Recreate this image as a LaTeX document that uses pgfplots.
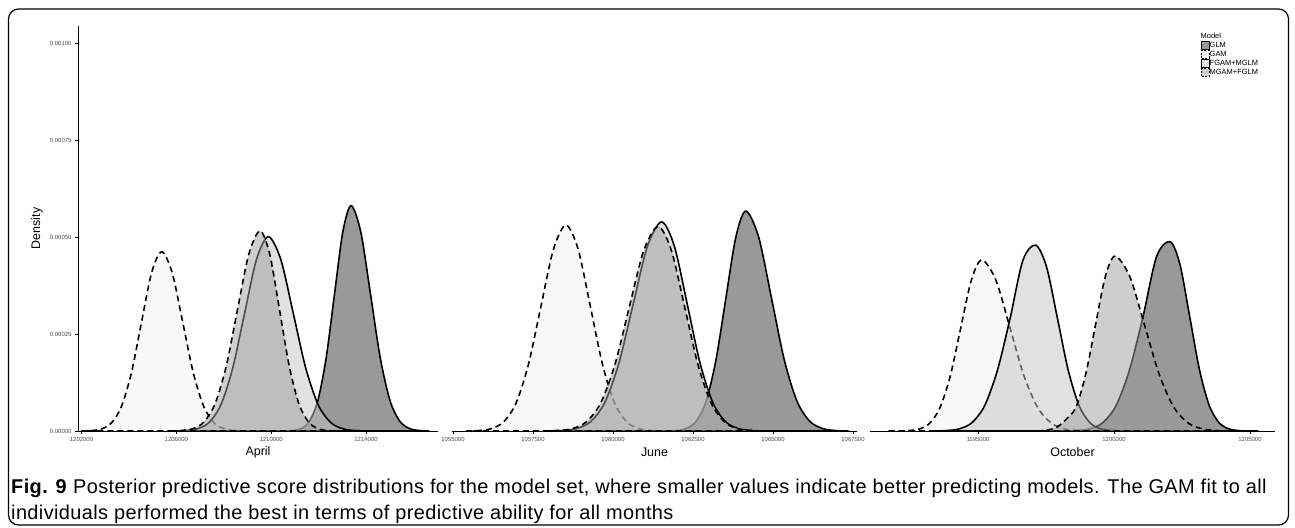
\documentclass[border=0pt]{standalone}
\usepackage{fontspec}
\setmainfont{Liberation Sans}
\newfontfamily\capfont[LetterSpace=2]{Liberation Sans}
\usepackage{pgfplots}
\pgfplotsset{compat=1.18}
\pgfkeys{/pgf/number format/assume math mode=true}

\definecolor{glmfill}{gray}{0.20}
\definecolor{gamfill}{gray}{0.945}
\definecolor{fgamfill}{gray}{0.765}
\definecolor{mgamfill}{gray}{0.616}
\definecolor{ticktext}{HTML}{4D4D4D}

\pgfplotsset{
  panel/.style={
    scale only axis, height=405bp,
    ymin=0, ymax=0.001044,
    axis x line*=bottom,
    axis line style={line width=0.8bp, -},
    tick align=outside, major tick length=3bp,
    tick style={line width=0.5bp, black},
    ticklabel style={font=\fontsize{6}{6}\selectfont, text=ticktext},
    scaled x ticks=false, scaled y ticks=false,
    xticklabel style={/pgf/number format/.cd, fixed, precision=0, 1000 sep={}},
    xlabel style={font=\fontsize{12.5}{12.5}\selectfont, at={(axis description cs:0.5,0)}, anchor=center, yshift=-21bp},
    clip=false,
  },
  glm/.style={draw=black, line width=1.6bp, line join=round, fill=glmfill, fill opacity=0.5, smooth,
    legend image code/.code={\draw[draw=black, line width=0.6bp, fill=glmfill, fill opacity=0.5] (0bp,-3.8bp) rectangle (7.5bp,3.8bp);}},
  gam/.style={draw=black, line width=1.6bp, line join=round, fill=gamfill, fill opacity=0.5, smooth, dash pattern=on 6bp off 4bp,
    legend image code/.code={\draw[draw=black, line width=0.6bp, fill=gamfill, fill opacity=0.5, dash pattern=on 2bp off 1.5bp] (0bp,-3.8bp) rectangle (7.5bp,3.8bp);}},
  fgam/.style={draw=black, line width=1.6bp, line join=round, fill=fgamfill, fill opacity=0.5, smooth,
    legend image code/.code={\draw[draw=black, line width=0.6bp, fill=fgamfill, fill opacity=0.5] (0bp,-3.8bp) rectangle (7.5bp,3.8bp);}},
  mgam/.style={draw=black, line width=1.6bp, line join=round, fill=mgamfill, fill opacity=0.5, smooth, dash pattern=on 6bp off 4bp,
    legend image code/.code={\draw[draw=black, line width=0.6bp, fill=mgamfill, fill opacity=0.5, dash pattern=on 2bp off 1.5bp] (0bp,-3.8bp) rectangle (7.5bp,3.8bp);}},
}

\begin{document}
\begin{tikzpicture}
\path[use as bounding box] (0bp,0bp) rectangle (1295bp,528bp);
\draw[line width=1.2bp, rounded corners=10bp] (8.5bp,3bp) rectangle (1288.5bp,519bp);

% April
\begin{axis}[panel, at={(78bp,97bp)}, anchor=south west, width=360bp,
  xmin=1201852, xmax=1217036,
  xtick={1202000,1206000,1210000,1214000},
  axis y line*=left,
  ytick={0,0.00025,0.0005,0.00075,0.001},
  yticklabel style={/pgf/number format/.cd, fixed, fixed zerofill, precision=5},
  xlabel={April}, ylabel={Density},
  ylabel style={font=\fontsize{12.5}{12.5}\selectfont, at={(axis description cs:-0.114,0.5)}, anchor=center},
]
\addplot[glm] coordinates {(1210570,0) (1210920,0.0000013) (1211270,0.0000064) (1211620,0.0000255) (1211970,0.0000786) (1212320,0.0001887) (1212670,0.0003524) (1213020,0.0005127) (1213370,0.000581) (1213780,0.0005127) (1214190,0.0003524) (1214600,0.0001887) (1215010,0.0000786) (1215420,0.0000255) (1215830,0.0000064) (1216240,0.0000013) (1216650,0)} \closedcycle;
\addplot[gam] coordinates {(1201980,0) (1202405,0.0000010) (1202830,0.0000051) (1203255,0.0000203) (1203680,0.0000625) (1204105,0.0001500) (1204530,0.0002802) (1204955,0.0004077) (1205380,0.000462) (1205825,0.0004077) (1206270,0.0002802) (1206715,0.0001500) (1207160,0.0000625) (1207605,0.0000203) (1208050,0.0000051) (1208495,0.0000010) (1208940,0)} \closedcycle;
\addplot[fgam] coordinates {(1205880,0) (1206380,0.0000011) (1206880,0.0000056) (1207380,0.0000220) (1207880,0.0000678) (1208380,0.0001627) (1208880,0.0003039) (1209380,0.0004421) (1209880,0.000501) (1210405,0.0004421) (1210930,0.0003039) (1211455,0.0001627) (1211980,0.0000678) (1212505,0.0000220) (1213030,0.0000056) (1213555,0.0000011) (1214080,0)} \closedcycle;
\addplot[mgam] coordinates {(1205730,0) (1206205,0.0000011) (1206680,0.0000057) (1207155,0.0000227) (1207630,0.0000698) (1208105,0.0001675) (1208580,0.0003130) (1209055,0.0004554) (1209530,0.000516) (1209940,0.0004554) (1210350,0.0003130) (1210760,0.0001675) (1211170,0.0000698) (1211580,0.0000227) (1211990,0.0000057) (1212400,0.0000011) (1212810,0)} \closedcycle;
\end{axis}

% June
\begin{axis}[panel, at={(452bp,97bp)}, anchor=south west, width=405bp,
  xmin=1054969, xmax=1067625,
  xtick={1055000,1057500,1060000,1062500,1065000,1067500},
  axis y line=none,
  xlabel={June},
]
\addplot[glm] coordinates {(1061670,0) (1061980,0.0000012) (1062290,0.0000063) (1062600,0.0000249) (1062910,0.0000767) (1063220,0.0001841) (1063530,0.0003439) (1063840,0.0005004) (1064150,0.000567) (1064550,0.0005004) (1064950,0.0003439) (1065350,0.0001841) (1065750,0.0000767) (1066150,0.0000249) (1066550,0.0000063) (1066950,0.0000012) (1067350,0)} \closedcycle;
\addplot[gam] coordinates {(1055410,0) (1055800,0.0000012) (1056190,0.0000059) (1056580,0.0000233) (1056970,0.0000718) (1057360,0.0001724) (1057750,0.0003221) (1058140,0.0004686) (1058530,0.000531) (1058910,0.0004686) (1059290,0.0003221) (1059670,0.0001724) (1060050,0.0000718) (1060430,0.0000233) (1060810,0.0000059) (1061190,0.0000012) (1061570,0)} \closedcycle;
\addplot[fgam] coordinates {(1057960,0) (1058405,0.0000012) (1058850,0.0000060) (1059295,0.0000237) (1059740,0.0000729) (1060185,0.0001750) (1060630,0.0003269) (1061075,0.0004757) (1061520,0.000539) (1061920,0.0004757) (1062320,0.0003269) (1062720,0.0001750) (1063120,0.0000729) (1063520,0.0000237) (1063920,0.0000060) (1064320,0.0000012) (1064720,0)} \closedcycle;
\addplot[mgam] coordinates {(1057810,0) (1058260,0.0000012) (1058710,0.0000058) (1059160,0.0000231) (1059610,0.0000713) (1060060,0.0001711) (1060510,0.0003196) (1060960,0.0004651) (1061410,0.000527) (1061825,0.0004651) (1062240,0.0003196) (1062655,0.0001711) (1063070,0.0000713) (1063485,0.0000231) (1063900,0.0000058) (1064315,0.0000012) (1064730,0)} \closedcycle;
\end{axis}

% October
\begin{axis}[panel, at={(870bp,97bp)}, anchor=south west, width=405bp,
  xmin=1191029, xmax=1205919,
  xtick={1195000,1200000,1205000},
  axis y line=none,
  xlabel={October},
  legend style={at={(axis description cs:0.817,0.985)}, anchor=north west, draw=none, fill=none,
    font=\fontsize{7.5}{7.5}\selectfont, inner sep=0pt, row sep=0.9bp,
    nodes={inner sep=0.5bp}},
  legend cell align=left,
]
\addlegendimage{empty legend}
\addlegendentry{\hspace{-9bp}Model}
\addplot[glm] coordinates {(1198100,0) (1198595,0.0000011) (1199090,0.0000054) (1199585,0.0000214) (1200080,0.0000660) (1200575,0.0001585) (1201070,0.0002960) (1201565,0.000450) (1202060,0.000488) (1202420,0.0004307) (1202780,0.0002960) (1203140,0.0001585) (1203500,0.0000660) (1203860,0.0000214) (1204220,0.0000054) (1204580,0.0000011) (1204940,0) (1205300,0)} \closedcycle;
\addlegendentry{GLM}
\addplot[gam] coordinates {(1191700,0) (1192060,0.0000003) (1192445,0.0000010) (1192830,0.0000049) (1193215,0.0000194) (1193600,0.0000597) (1193985,0.0001432) (1194370,0.0002675) (1194755,0.0003892) (1195140,0.000441) (1195655,0.0003892) (1196170,0.0002675) (1196685,0.0001432) (1197200,0.0000597) (1197715,0.0000194) (1198230,0.0000049) (1198745,0.0000010) (1199260,0)} \closedcycle;
\addlegendentry{GAM}
\addplot[fgam] coordinates {(1193360,0) (1193830,0.0000011) (1194300,0.0000053) (1194770,0.0000210) (1195240,0.0000648) (1195710,0.0001555) (1196180,0.0002905) (1196650,0.000440) (1197120,0.000479) (1197520,0.0004227) (1197920,0.0002905) (1198320,0.0001555) (1198720,0.0000648) (1199120,0.0000210) (1199520,0.0000053) (1199920,0.0000011) (1200320,0)} \closedcycle;
\addlegendentry{FGAM+MGLM}
\addplot[mgam] coordinates {(1197160,0) (1197520,0.0000025) (1197880,0.0000090) (1198240,0.0000300) (1198600,0.0000610) (1198960,0.0001464) (1199320,0.0002735) (1199680,0.0003980) (1200040,0.000451) (1200580,0.0003980) (1201120,0.0002735) (1201660,0.0001464) (1202200,0.0000610) (1202740,0.0000198) (1203280,0.0000050) (1203820,0.0000010) (1204360,0)} \closedcycle;
\addlegendentry{MGAM+FGLM}
\end{axis}

\node[anchor=base west, inner sep=0, font=\capfont\fontsize{20}{20}\selectfont] at (11bp,35bp)
  {\textbf{Fig. 9} Posterior predictive score distributions for the model set, where smaller values indicate better predicting models. The GAM fit to all};
\node[anchor=base west, inner sep=0, font=\capfont\fontsize{20}{20}\selectfont] at (11bp,9bp)
  {individuals performed the best in terms of predictive ability for all months};
\end{tikzpicture}
\end{document}
